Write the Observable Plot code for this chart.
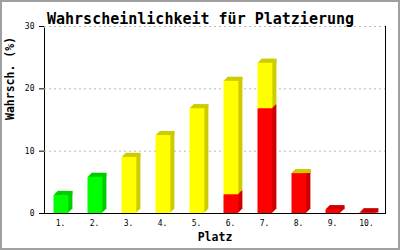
<!DOCTYPE html>
<html><head><meta charset="utf-8">
<script src="https://cdn.jsdelivr.net/npm/d3@7"></script>
<script src="https://cdn.jsdelivr.net/npm/@observablehq/plot@0.6"></script>
<style>
body{margin:0;background:#fff;}
#wrap{position:relative;width:400px;height:250px;}
#border{position:absolute;left:0;top:0;width:400px;height:250px;box-sizing:border-box;border:2px solid #a0a0a0;pointer-events:none;}
</style></head>
<body><div id="wrap"><div id="border"></div></div>
<script>
const title = "Wahrscheinlichkeit für Platzierung";
const yLabel = "Wahrsch. (%)";
const xLabel = "Platz";
const places = ["1.","2.","3.","4.","5.","6.","7.","8.","9.","10."];
const yTicks = [0, 10, 20, 30];
// stacked series, bottom to top
const red    = [0, 0, 0, 0, 0, 3.0, 16.8, 6.4, 0.6, 0.1];
const yellow = [0, 0, 9.0, 12.5, 16.8, 18.2, 7.3, 0.02, 0, 0];
const green  = [2.9, 5.8, 0, 0, 0, 0, 0, 0, 0, 0];

const series = [
  {values: red, color: "#ff0000", side: "#cc0000"},
  {values: yellow, color: "#ffff00", side: "#cccc00"},
  {values: green, color: "#00ff00", side: "#00cc00"}
];
const segs = [];
const tops = [];
places.forEach((p, i) => {
  let y0 = 0, last = null;
  for (const s of series) {
    const v = s.values[i];
    if (v > 0) {
      last = {place: p, y1: y0, y2: y0 + v, color: s.color, side: s.side};
      segs.push(last);
      y0 += v;
    }
  }
  if (last) tops.push(last);
});

const inL = 8.5, inR = 10.6, D = 4;
const marks = [];
marks.push(Plot.frame({stroke: "black"}));
marks.push(Plot.ruleY([30], {stroke: "white", strokeWidth: 2}));
marks.push(Plot.ruleY([10, 20, 30], {stroke: "#b8b8b8", strokeDasharray: "2,3"}));
for (let k = D; k >= 1; k--) {
  marks.push(Plot.barY(segs, {x: "place", y1: "y1", y2: "y2", fill: "side", dx: k, dy: -k, insetLeft: inL, insetRight: inR}));
}
for (let k = D; k >= 1; k--) {
  marks.push(Plot.barY(tops, {x: "place", y1: "y2", y2: "y2", fill: "side", dx: k, insetTop: -k, insetLeft: inL, insetRight: inR}));
}
marks.push(Plot.barY(segs, {x: "place", y1: "y1", y2: "y2", fill: "color", insetLeft: inL, insetRight: inR}));
marks.push(Plot.ruleY([0], {stroke: "black"}));
marks.push(Plot.axisX({tickSize: 0, tickPadding: 7, dx: -2, label: null, fontSize: 8}));
marks.push(Plot.axisY({ticks: yTicks, tickSize: 5, tickPadding: 5, label: null, fontSize: 8}));
marks.push(Plot.text([title], {frameAnchor: "top", dx: -14.5, dy: -13, fontSize: 15, fontWeight: "bold", fill: "black"}));
marks.push(Plot.text([yLabel], {frameAnchor: "left", rotate: -90, dx: -34, fontSize: 11.5, fontWeight: "bold", fill: "black"}));
marks.push(Plot.text([xLabel], {frameAnchor: "bottom", dy: 27, fontSize: 11.5, fontWeight: "bold", fill: "black"}));

const chart = Plot.plot({
  width: 400, height: 250,
  marginLeft: 44, marginRight: 15, marginTop: 26, marginBottom: 37,
  style: {fontFamily: "'DejaVu Sans Mono', monospace", background: "white", color: "black"},
  x: {type: "band", domain: places, padding: 0, axis: null},
  y: {domain: [0, 30], axis: null},
  color: {type: "identity"},
  marks
});
document.getElementById("wrap").insertBefore(chart, document.getElementById("border"));
</script>
</body></html>
